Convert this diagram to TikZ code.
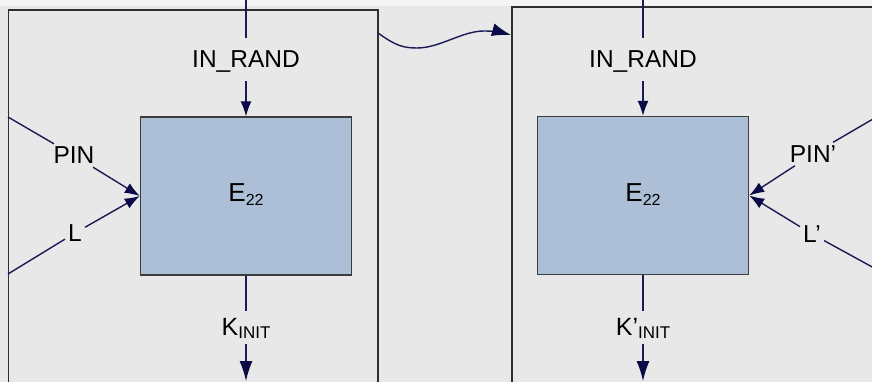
\documentclass[tikz,border=0pt]{standalone}
\usepackage{fontspec}
\setmainfont{Liberation Sans}
\usetikzlibrary{arrows.meta}
\definecolor{bgc}{HTML}{E8E8E8}
\definecolor{topc}{HTML}{F4F4F4}
\definecolor{framec}{HTML}{2E2E2E}
\definecolor{boxfill}{HTML}{ADBFD6}
\definecolor{boxedge}{HTML}{3C3C3C}
\definecolor{wirec}{HTML}{1A1A58}
\definecolor{tipc}{HTML}{0A0A46}
\begin{document}
\begin{tikzpicture}[x=1pt,y=-1pt,
  panel/.style={draw=framec, line width=1.8pt},
  block/.style={draw=boxedge, fill=boxfill, line width=1.4pt,
    minimum width=211pt, minimum height=158pt, inner sep=0pt},
  lab/.style={font=\fontsize{24.5}{24.5}\selectfont, text height=17pt, text depth=0pt,
    inner xsep=3pt, inner ysep=3pt},
  toplab/.style={lab, inner ysep=13pt},
  botlab/.style={font=\fontsize{25}{25}\selectfont, text height=18pt, text depth=3pt,
    inner xsep=3pt, inner ysep=6pt},
  blocklab/.style={font=\fontsize{26}{26}\selectfont, inner sep=0pt},
  wire/.style={draw=wirec, line width=1.4pt},
  arr/.style={wire, -{Latex[length=15pt,width=11pt,color=tipc]}},
  arrbig/.style={wire, -{Latex[length=20pt,width=13pt,color=tipc]}},
  arrcurve/.style={wire, -{Latex[length=19pt,width=13pt,color=tipc]}}
]
\useasboundingbox (0,0) rectangle (872,382);
\clip (0,0) rectangle (872,382);

% background and the two stage frames
\fill[bgc] (0,0) rectangle (872,382);
\fill[topc] (0,0) rectangle (872,6);
\draw[panel] (8.5,10) rectangle (378,400);
\draw[panel] (512,7) rectangle (900,400);

% blocks
\node[block] (bL) at (246,196) {};
\node[block] (bR) at (643,195.5) {};
\node[blocklab] (eL) at (246,195) {E\raisebox{-4pt}{\fontsize{16}{16}\selectfont 22}};
\node[blocklab] (eR) at (643,195) {E\raisebox{-4pt}{\fontsize{16}{16}\selectfont 22}};

% IN_RAND inputs
\coordinate (inLtop) at (246,0);
\coordinate (inRtop) at (643,0);
\node[toplab] (inL) at (246,59.5) {IN\_RAND};
\node[toplab] (inR) at (643,59.5) {IN\_RAND};
\draw[wire] (inLtop) -- (inL.north);
\draw[arr] (inL.south) -- (bL.north);
\draw[wire] (inRtop) -- (inR.north);
\draw[arr] (inR.south) -- (bR.north);

% PIN and L inputs, left stage
\coordinate (pinLs) at (8,117);
\coordinate (lLs) at (8,274);
\node[lab] (pinL) at (74,155.5) {PIN};
\node[lab] (lL) at (75,233) {L};
\draw[wire] (pinLs) -- (pinL);
\draw[arr] (pinL) -- (bL.west);
\draw[wire] (lLs) -- (lL);
\draw[arr] (lL) -- (bL.west);

% PIN' and L' inputs, right stage
\coordinate (pinRs) at (885,112);
\coordinate (lRs) at (885,274);
\node[lab] (pinR) at (813,154) {PIN’};
\node[lab] (lR) at (812,234) {L’};
\draw[wire] (pinRs) -- (pinR);
\draw[arr] (pinR) -- (bR.east);
\draw[wire] (lRs) -- (lR);
\draw[arr] (lR) -- (bR.east);

% K_INIT outputs
\node[botlab] (kL) at (246,327.5) {K\raisebox{-3pt}{\fontsize{17}{17}\selectfont INIT}};
\node[botlab] (kR) at (643,327.5) {K’\raisebox{-3pt}{\fontsize{17}{17}\selectfont INIT}};
\coordinate (kLend) at (246,381);
\coordinate (kRend) at (643,381);
\draw[wire] (bL.south) -- (kL.north);
\draw[arrbig] (kL.south) -- (kLend);
\draw[wire] (bR.south) -- (kR.north);
\draw[arrbig] (kR.south) -- (kRend);

% hand-over between the stages
\coordinate (cs) at (378,33);
\coordinate (ce) at (511,35);
\draw[arrcurve] (cs) .. controls (395,45) and (402,48) .. (417,48)
  .. controls (440,48) and (462,31) .. (484,31)
  .. controls (496,31) and (504,33) .. (ce);
\end{tikzpicture}
\end{document}
